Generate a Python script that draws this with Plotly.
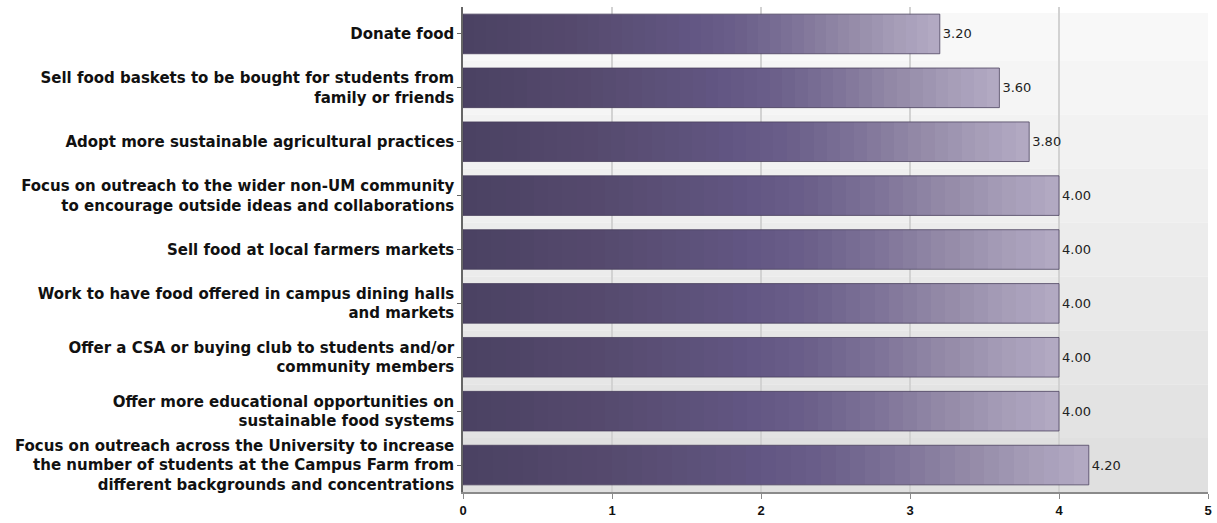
import plotly.graph_objects as go
from plotly.colors import sample_colorscale

# Survey items (top to bottom) and their mean scores
categories = [
    "Donate food",
    "Sell food baskets to be bought for students from<br>family or friends",
    "Adopt more sustainable agricultural practices",
    "Focus on outreach to the wider non-UM community<br>to encourage outside ideas and collaborations",
    "Sell food at local farmers markets",
    "Work to have food offered in campus dining halls<br>and markets",
    "Offer a CSA or buying club to students and/or<br>community members",
    "Offer more educational opportunities on<br>sustainable food systems",
    "Focus on outreach across the University to increase<br>the number of students at the Campus Farm from<br>different backgrounds and concentrations",
]
scores = [3.20, 3.60, 3.80, 4.00, 4.00, 4.00, 4.00, 4.00, 4.20]
x_ticks = [0, 1, 2, 3, 4, 5]

BAR_W = 0.735  # bar thickness in category units
HALF = BAR_W / 2
anchor_scale = [
    [0.00, "#4b4262"], [0.10, "#4f4567"], [0.22, "#55496d"], [0.35, "#5b5077"],
    [0.48, "#625683"], [0.58, "#6b5f8a"], [0.68, "#7b7096"], [0.80, "#9288a6"],
    [0.90, "#a49bb6"], [1.00, "#b4abc4"],
]
# finely stepped version of the gradient gives a soft banded fill
STEPS = 42
step_cols = sample_colorscale(anchor_scale, [(k + 0.5) / STEPS for k in range(STEPS)])
bar_scale = []
for k, col in enumerate(step_cols):
    bar_scale.append([k / STEPS, col])
    bar_scale.append([(k + 1) / STEPS, col])

fig = go.Figure()

# background bands, darkening toward the bottom
n = len(categories)
top_rgb, bot_rgb = (248, 248, 248), (224, 224, 224)
for i in range(n):
    t = i / (n - 1)
    c = tuple(round(a + (b - a) * t) for a, b in zip(top_rgb, bot_rgb))
    y0 = i - 0.39 if i == 0 else i - 0.5
    fig.add_shape(type="rect", xref="x", yref="y", x0=0, x1=5, y0=y0, y1=i + 0.5,
                  fillcolor="rgb(%d,%d,%d)" % c, line_width=0, layer="below")

# transparent bars carrying the value labels
fig.add_trace(go.Bar(
    x=scores, y=list(range(n)), orientation="h", width=BAR_W,
    marker=dict(color="rgba(0,0,0,0)", line_width=0),
    text=["%.2f" % v for v in scores], textposition="outside",
    textfont=dict(family="DejaVu Sans", size=13, color="#222222"),
    cliponaxis=False, hoverinfo="skip", showlegend=False,
))

# gradient bars
for i, v in enumerate(scores):
    fig.add_trace(go.Scatter(
        x=[0, v, v, 0, 0],
        y=[i - HALF, i - HALF, i + HALF, i + HALF, i - HALF],
        mode="lines", fill="toself",
        fillgradient=dict(type="horizontal", colorscale=bar_scale),
        line=dict(color="rgba(70,60,90,0.75)", width=1),
        hoverinfo="skip", showlegend=False,
    ))

fig.update_layout(
    width=1217, height=523,
    margin=dict(l=463, r=5, t=7, b=26),
    paper_bgcolor="white", plot_bgcolor="white",
    showlegend=False,
)
fig.update_xaxes(
    range=[0, 5], tickvals=x_ticks, ticktext=[str(t) for t in x_ticks],
    showgrid=True, gridcolor="#d2d2d2", gridwidth=1.5, zeroline=False,
    showline=True, linecolor="#8a8a8a", linewidth=2,
    ticks="outside", ticklen=5, tickcolor="#8a8a8a",
    tickfont=dict(family="Liberation Sans", size=13, color="#111111", weight="bold"),
)
fig.update_yaxes(
    range=[n - 0.5, -0.5], tickvals=list(range(n)), ticktext=categories,
    showgrid=False, zeroline=False,
    showline=True, linecolor="#666666", linewidth=1.5,
    ticks="outside", ticklen=4, tickcolor="#666666",
    tickfont=dict(family="DejaVu Sans", size=15, color="#111111", weight="bold"),
)

fig.write_html("out.html")
